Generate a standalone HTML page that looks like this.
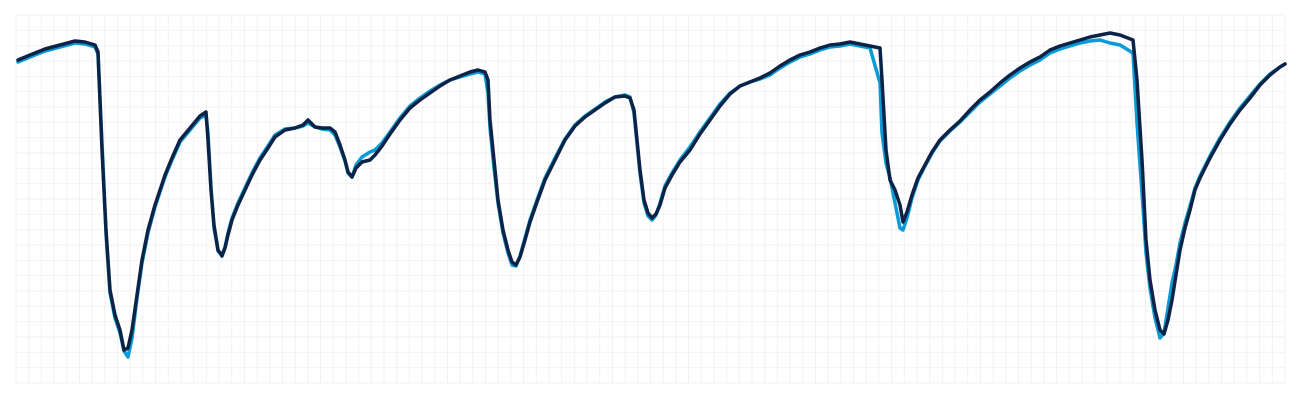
<!DOCTYPE html>
<html><head><meta charset="utf-8"><style>
html,body{margin:0;padding:0;background:#fff;width:1300px;height:400px;overflow:hidden;font-family:"Liberation Sans",sans-serif}
</style></head><body>
<svg id="chart" width="1300" height="400" viewBox="0 0 1300 400" xmlns="http://www.w3.org/2000/svg">
<g id="grid"></g>
<g id="series"></g>
</svg>
<script>
const times = [2,14,29,44,59,69,79,82,86,90,94,99,104,108,112,116,121,126,132,139,144,149,156,164,174,184,190,192,195,198,202,206,209,212,216,222,229,236,244,252,259,269,279,287,292,299,306,314,319,324,329,332,336,340,346,354,359,366,374,384,394,404,414,424,434,444,454,462,469,472,474,478,482,487,492,496,500,504,509,514,521,529,539,549,559,569,579,589,599,609,614,618,621,624,628,632,636,640,644,649,656,664,674,684,694,704,714,724,734,744,754,764,774,784,794,804,814,824,834,844,854,864,866,870,874,879,884,887,891,896,902,909,916,924,934,944,954,964,974,984,994,1004,1014,1024,1034,1044,1054,1064,1074,1084,1094,1104,1117,1121,1126,1130,1134,1139,1144,1148,1152,1156,1160,1164,1169,1174,1179,1184,1194,1204,1214,1224,1234,1244,1254,1264,1269];
const darkValues = [323,328,334,338,342,341,338,331,233,153,93,68,53,33,35,53,88,123,153,178,193,208,225,243,255,267,271,243,193,158,133,127,135,148,163,178,193,208,223,235,246,253,255,258,263,256,255,255,251,238,223,211,206,215,221,223,228,237,249,263,275,283,290,297,303,307,311,313,311,303,263,223,183,153,133,121,118,126,143,161,181,203,223,243,257,266,273,280,286,287,285,273,243,213,183,170,165,169,178,195,208,221,233,249,263,277,289,297,301,305,310,317,323,328,331,335,338,339,341,339,337,335,303,233,203,193,178,161,171,188,205,218,231,243,253,262,273,283,291,300,308,315,321,326,333,337,340,343,346,348,350,348,343,303,223,143,103,73,53,49,63,83,108,133,155,173,193,205,225,243,259,273,285,298,308,316,319];
const lightValues = [321,326,332,336,340,339,336,329,240,150,90,65,50,32,26,45,85,120,150,176,191,206,223,241,253,265,268,250,195,155,132,128,136,150,165,180,195,210,225,237,248,254,255,257,260,256,254,253,248,236,222,210,206,218,226,231,233,240,251,265,277,285,292,298,303,306,309,311,309,290,255,215,180,150,130,118,117,127,145,163,183,205,225,244,258,267,274,281,286,288,286,270,240,210,180,167,163,168,180,197,210,223,236,251,265,279,290,297,301,304,308,315,321,326,329,333,336,337,339,337,335,300,250,220,205,180,155,153,165,185,203,217,230,242,252,261,271,281,289,297,305,312,318,323,330,334,337,340,342,343,340,338,330,260,190,130,95,65,45,50,75,100,118,140,160,177,195,207,227,245,261,275,287,299,309,316,319];

const X0=16, X1=1285, Y0=383, Y1=15;
const tMax=1269, vMax=368;
const xScale = t => X0 + t/tMax*(X1-X0);
const yScale = v => Y0 - v/vMax*(Y0-Y1);
const NS="http://www.w3.org/2000/svg";
const grid=document.getElementById('grid');
for(let i=0;i<=100;i++){
  const l=document.createElementNS(NS,'line');
  const x=X0+i*(X1-X0)/100;
  l.setAttribute('x1',x);l.setAttribute('x2',x);l.setAttribute('y1',Y1);l.setAttribute('y2',Y0);
  l.setAttribute('stroke','#f2f2f2');l.setAttribute('stroke-width','1');
  
  
  grid.appendChild(l);
}
for(let j=0;j<=24;j++){
  const l=document.createElementNS(NS,'line');
  const y=Y1+j*(Y0-Y1)/24;
  l.setAttribute('x1',X0);l.setAttribute('x2',X1);l.setAttribute('y1',y);l.setAttribute('y2',y);
  l.setAttribute('stroke','#f2f2f2');l.setAttribute('stroke-width','1');
  
  
  grid.appendChild(l);
}
const series=document.getElementById('series');
function draw(vals,color,name){
  const p=document.createElementNS(NS,'path');
  p.setAttribute('d',vals.map((v,i)=>(i?'L':'M')+xScale(times[i]).toFixed(1)+','+yScale(v).toFixed(1)).join(''));
  p.setAttribute('fill','none');p.setAttribute('stroke',color);p.setAttribute('stroke-width','3.5');
  p.setAttribute('stroke-linejoin','round');p.setAttribute('stroke-linecap','round');
  
  
  series.appendChild(p);
}
draw(lightValues,'#0a9ad6','light-blue-series-line');
draw(darkValues,'#0b2347','dark-navy-series-line');
</script>
</body></html>
